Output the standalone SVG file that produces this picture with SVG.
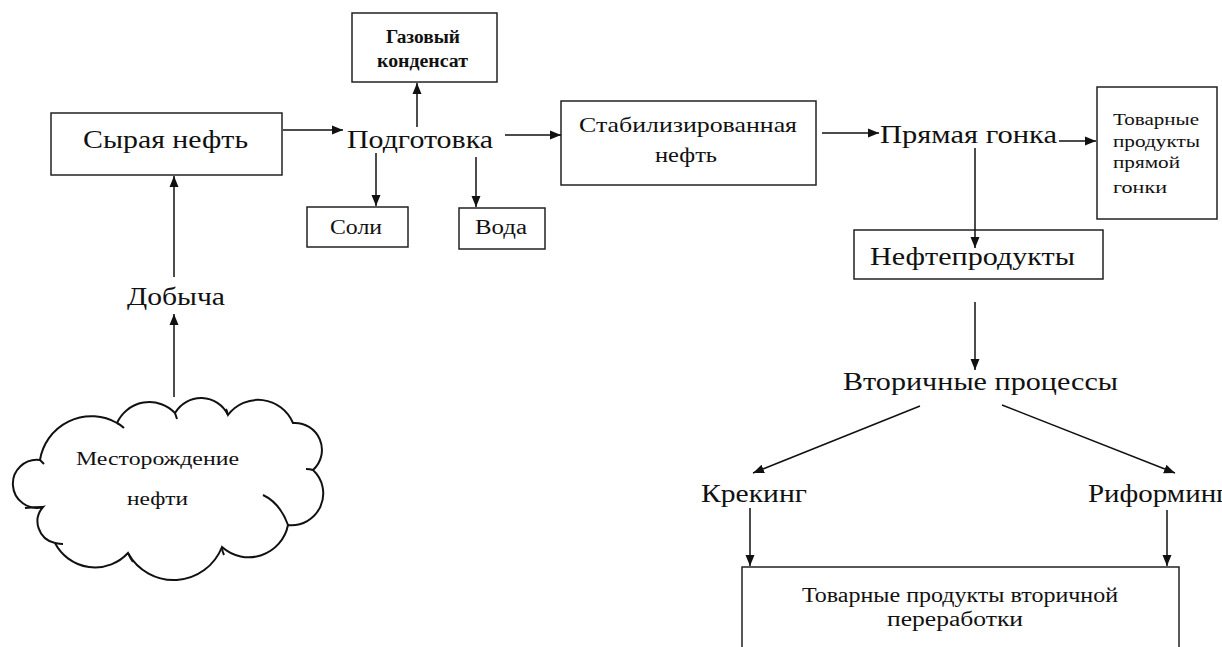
<svg xmlns="http://www.w3.org/2000/svg" width="1222" height="647" viewBox="0 0 1222 647">
<style>
text{font-family:'Liberation Serif', 'DejaVu Serif', serif;fill:#111;}
.box{fill:#fff;stroke:#222;stroke-width:1.5;}
.cn line{stroke:#111;stroke-width:1.5;marker-end:url(#ah);}
.cloud{fill:#fff;stroke:#111;stroke-width:2;}
.hook{fill:none;stroke:#111;stroke-width:2;}
</style>
<defs>
<marker id="ah" markerUnits="userSpaceOnUse" markerWidth="12" markerHeight="10" refX="11" refY="5" orient="auto">
<path d="M0,0.5 L11,5 L0,9.5 Z" fill="#111"/>
</marker>
</defs>
<rect width="1222" height="647" fill="#fff"/>
<g font-family="Liberation Serif, serif">
<g id="crude">
<rect class="box" x="51" y="113" width="231" height="62"/>
<text x="83" y="148" font-size="25" textLength="165" lengthAdjust="spacingAndGlyphs">Сырая нефть</text>
</g>
<g id="prep">
<text x="347" y="148" font-size="26" textLength="146" lengthAdjust="spacingAndGlyphs">Подготовка</text>
</g>
<g id="gas">
<rect class="box" x="352" y="13" width="145" height="69"/>
<text x="386" y="43" font-size="18" font-weight="bold" textLength="74" lengthAdjust="spacingAndGlyphs">Газовый</text>
<text x="377" y="67" font-size="18" font-weight="bold" textLength="91" lengthAdjust="spacingAndGlyphs">конденсат</text>
</g>
<g id="salts">
<rect class="box" x="307" y="207" width="101" height="40"/>
<text x="330" y="234" font-size="20" textLength="52" lengthAdjust="spacingAndGlyphs">Соли</text>
</g>
<g id="water">
<rect class="box" x="459" y="208" width="86" height="41"/>
<text x="475" y="234" font-size="20" textLength="52" lengthAdjust="spacingAndGlyphs">Вода</text>
</g>
<g id="stab">
<rect class="box" x="561" y="101" width="255" height="84"/>
<text x="579" y="132" font-size="21" textLength="218" lengthAdjust="spacingAndGlyphs">Стабилизированная</text>
<text x="655" y="162" font-size="21" textLength="62" lengthAdjust="spacingAndGlyphs">нефть</text>
</g>
<g id="straight">
<text x="880" y="143" font-size="25" textLength="177" lengthAdjust="spacingAndGlyphs">Прямая гонка</text>
</g>
<g id="straight-products">
<rect class="box" x="1097" y="87" width="120" height="132"/>
<text x="1113" y="125" font-size="17" textLength="86" lengthAdjust="spacingAndGlyphs">Товарные</text>
<text x="1113" y="147" font-size="17" textLength="87" lengthAdjust="spacingAndGlyphs">продукты</text>
<text x="1113" y="168" font-size="17" textLength="67" lengthAdjust="spacingAndGlyphs">прямой</text>
<text x="1113" y="193" font-size="17" textLength="54" lengthAdjust="spacingAndGlyphs">гонки</text>
</g>
<g id="oilproducts">
<rect class="box" x="854" y="230" width="249" height="49"/>
<text x="870" y="265" font-size="26" textLength="205" lengthAdjust="spacingAndGlyphs">Нефтепродукты</text>
</g>
<g id="extraction">
<text x="127" y="305" font-size="25" textLength="98" lengthAdjust="spacingAndGlyphs">Добыча</text>
</g>
<g id="field">
<path class="cloud" d="M43,507 A24,24 0 1 1 40,460 A52,52 0 0 1 117,423 A35.5,35.5 0 0 1 175,413 A30,30 0 0 1 228,415 A37.7,37.7 0 0 1 293,423 A27,27 0 0 1 313,470 A31.8,31.8 0 0 1 288,525 A40,40 0 0 1 222,547 A52,52 0 0 1 128,553 A45,45 0 0 1 55,543 A22,22 0 0 1 43,507 Z"/>
<path class="hook" d="M117,423 Q121,425 124,428 M175,413 Q176,416 177,419 M228,415 Q227,411 226,409 M313,470 Q310,469 306,469 M263,495 Q280,503 288,525 M222,547 Q222,551 224,555 M128,553 Q130,558 133,562 M55,543 Q60,544 63,544 M43,507 Q35,507 25,508 M40,460 Q42,462 44,464"/>
<text x="76" y="465" font-size="18" textLength="163" lengthAdjust="spacingAndGlyphs">Месторождение</text>
<text x="127" y="505" font-size="18" textLength="61" lengthAdjust="spacingAndGlyphs">нефти</text>
</g>
<g id="secondary">
<text x="843" y="390" font-size="26" textLength="275" lengthAdjust="spacingAndGlyphs">Вторичные процессы</text>
</g>
<g id="cracking">
<text x="701" y="502" font-size="26" textLength="106" lengthAdjust="spacingAndGlyphs">Крекинг</text>
</g>
<g id="reforming">
<text x="1088" y="502" font-size="26" textLength="140" lengthAdjust="spacingAndGlyphs">Риформинг</text>
</g>
<g id="secondary-products">
<rect class="box" x="742" y="567" width="437" height="100"/>
<text x="802" y="602" font-size="20" textLength="316" lengthAdjust="spacingAndGlyphs">Товарные продукты вторичной</text>
<text x="887" y="626" font-size="20" textLength="136" lengthAdjust="spacingAndGlyphs">переработки</text>
</g>
</g>
<g id="connectors" class="cn">
<line x1="174" y1="397" x2="174" y2="314"/>
<line x1="174" y1="277" x2="174" y2="176"/>
<line x1="283" y1="130" x2="343" y2="130"/>
<line x1="417" y1="127" x2="417" y2="83"/>
<line x1="376" y1="153" x2="376" y2="206"/>
<line x1="476" y1="157" x2="476" y2="207"/>
<line x1="505" y1="135" x2="561" y2="135"/>
<line x1="822" y1="133" x2="879" y2="133"/>
<line x1="1059" y1="141" x2="1096" y2="141"/>
<line x1="975" y1="148" x2="975" y2="248"/>
<line x1="975" y1="302" x2="975" y2="370"/>
<line x1="920" y1="406" x2="753" y2="473"/>
<line x1="1002" y1="405" x2="1175" y2="473"/>
<line x1="750" y1="508" x2="750" y2="566"/>
<line x1="1167" y1="510" x2="1167" y2="566"/>
</g>
</svg>
